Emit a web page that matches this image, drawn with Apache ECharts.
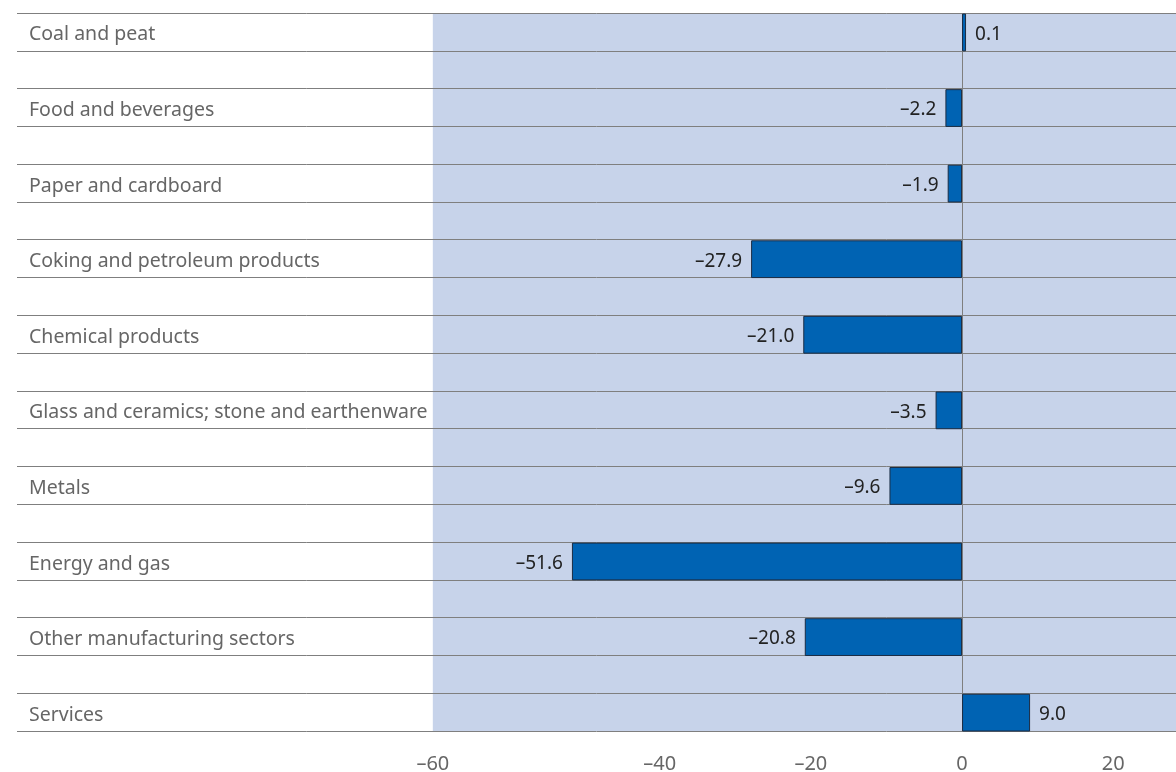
<!DOCTYPE html>
<html>
<head>
<meta charset="utf-8">
<script src="https://cdn.jsdelivr.net/npm/echarts@6/dist/echarts.min.js"></script>
<style>
  html, body { margin: 0; padding: 0; background: #ffffff; }
  #chart { width: 1176px; height: 772px; }
</style>
</head>
<body>
<div id="chart"></div>
<script>
// Change by sector (values shown next to each bar)
const sectors = [
  'Coal and peat',
  'Food and beverages',
  'Paper and cardboard',
  'Coking and petroleum products',
  'Chemical products',
  'Glass and ceramics; stone and earthenware',
  'Metals',
  'Energy and gas',
  'Other manufacturing sectors',
  'Services'
];
const changes = [0.1, -2.2, -1.9, -27.9, -21.0, -3.5, -9.6, -51.6, -20.8, 9.0];

// Axis tick positions and the text printed under them
const tickValues = [-70, -40, -20, 0, 20];
const tickLabels = ['–60', '–40', '–20', '0', '20'];

// Value range: the shaded plot band runs from -70 to the right edge;
// the axis extends further left to hold the sector names.
const axisMin = -125;
const axisMax = 28.3;
const bandMin = -70;

// Each sector row is followed by an empty spacer row
const rows = [];
const rowValues = [];
sectors.forEach((s, i) => {
  rows.push(s);
  rowValues.push(changes[i]);
  if (i < sectors.length - 1) { rows.push(''); rowValues.push(null); }
});

const fmt = v => (v < 0 ? '–' : '') + Math.abs(v).toFixed(1);
const lineColor = '#7f7f7f';

const chart = echarts.init(document.getElementById('chart'), null, { renderer: 'canvas' });
chart.setOption({
  animation: false,
  textStyle: { fontFamily: 'Noto Sans' },
  grid: {
    left: 17, right: 0, top: 13, bottom: 41,
    show: false, containLabel: false, outerBoundsMode: 'none'
  },
  xAxis: {
    type: 'value',
    min: axisMin,
    max: axisMax,
    axisLine: { show: false },
    axisTick: { show: false },
    splitLine: { show: false },
    axisLabel: {
      customValues: tickValues,
      color: '#666',
      fontSize: 20,
      margin: 23,
      formatter: v => {
        const k = tickValues.indexOf(Math.round(v));
        return k >= 0 ? tickLabels[k] : '';
      }
    }
  },
  yAxis: {
    type: 'category',
    inverse: true,
    data: rows,
    z: 5,
    axisLine: { show: false },
    axisTick: { show: false },
    splitLine: { show: true, lineStyle: { color: lineColor, width: 1 } },
    axisLabel: {
      inside: true,
      align: 'left',
      margin: 12,
      formatter: v => v ? '{n|' + v + '}' : '',
      rich: {
        n: { color: '#666', fontSize: 19.5, fontFamily: 'Noto Sans', padding: [6, 0, 0, 0] }
      }
    }
  },
  series: [
    {
      // shaded plot band, kept underneath the row rules
      type: 'bar',
      z: -1,
      silent: true,
      data: [],
      markArea: {
        silent: true,
        z: -1,
        itemStyle: { color: '#c7d3ea' },
        data: [[{ xAxis: bandMin }, { xAxis: axisMax }]]
      }
    },
    {
      type: 'bar',
      z: 10,
      barWidth: '100%',
      barMinHeight: 4,
      data: rowValues.map(v => v === null ? null : {
        value: v,
        label: { position: v < 0 ? 'left' : 'right' }
      }),
      itemStyle: { color: '#0063b3', borderColor: '#1b2c44', borderWidth: 1 },
      label: {
        show: true,
        distance: 9,
        formatter: p => '{v|' + fmt(p.value) + '}',
        rich: {
          v: { color: '#222', fontSize: 19, fontFamily: 'Noto Sans', padding: [4, 0, 0, 0] }
        }
      },
      markLine: {
        silent: true,
        symbol: 'none',
        label: { show: false },
        lineStyle: { color: lineColor, width: 1, type: 'solid' },
        data: [{ xAxis: 0 }]
      }
    }
  ]
});
</script>
</body>
</html>
